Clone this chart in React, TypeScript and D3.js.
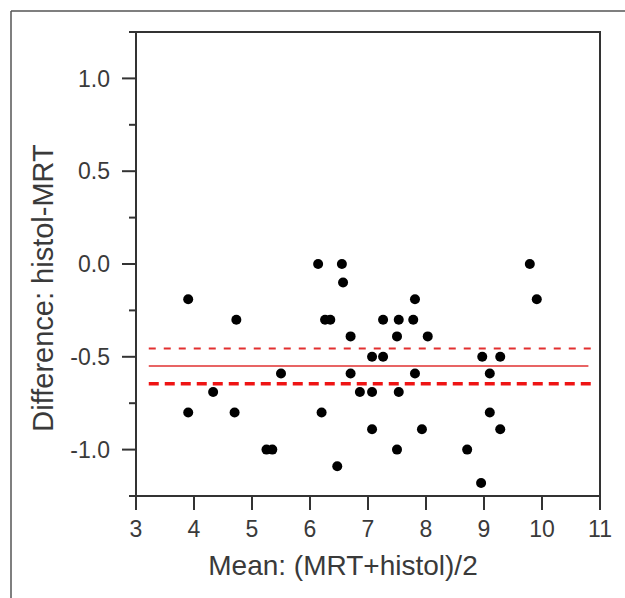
import React from "react";
import * as d3 from "d3";

const meanValues: number[] = [
  3.9, 3.9, 4.33, 4.73, 4.7, 5.25, 5.35, 5.5, 6.14, 6.2, 6.26, 6.35, 6.55, 6.57, 6.47, 6.7, 6.7, 6.86,
  7.07, 7.07, 7.07, 7.26, 7.26, 7.53, 7.5, 7.53, 7.5, 7.78, 7.81, 7.81, 8.03, 7.93, 8.71, 8.95, 8.97,
  9.1, 9.1, 9.28, 9.28, 9.79, 9.91,
];
const diffValues: number[] = [
  -0.19, -0.8, -0.69, -0.3, -0.8, -1.0, -1.0, -0.59, 0.0, -0.8, -0.3, -0.3, 0.0, -0.1, -1.09, -0.39, -0.59, -0.69,
  -0.5, -0.69, -0.89, -0.3, -0.5, -0.3, -0.39, -0.69, -1.0, -0.3, -0.19, -0.59, -0.39, -0.89, -1.0, -1.18, -0.5,
  -0.59, -0.8, -0.5, -0.89, 0.0, -0.19,
];
const xTicks: number[] = [3, 4, 5, 6, 7, 8, 9, 10, 11];
const yTicks: number[] = [1.0, 0.5, 0.0, -0.5, -1.0];
const yMinorTicks: number[] = [1.25, 0.75, 0.25, -0.25, -0.75, -1.25];
const meanDiff = -0.55;
const upperCI = -0.455;
const lowerCI = -0.645;
const lineStart = 3.22;
const lineEnd = 10.8;

const W = 625;
const H = 598;
const left = 136, right = 600, top = 32, bottom = 496;

export default function App() {
  const x = d3.scaleLinear().domain([3, 11]).range([left, right]);
  const y = d3.scaleLinear().domain([-1.25, 1.25]).range([bottom, top]);
  const axisColor = "#333";
  const textColor = "#3a3a3a";
  const font = "'Liberation Sans', Arial, sans-serif";
  const fmt = (t: number) => d3.format(".1f")(t).replace("\u2212", "-");
  const pts = meanValues.map((m, i) => [m, diffValues[i]] as [number, number]);
  return (
    <svg width={W} height={H} style={{ position: "absolute", left: 0, top: 0, background: "#fff" }}>
      {/* outer frame */}
      <line x1={11} y1={11} x2={W} y2={11} stroke="#555" strokeWidth={1.5} />
      <line x1={11} y1={11} x2={11} y2={H} stroke="#555" strokeWidth={1.5} />
      {/* plot box */}
      <rect x={left} y={top} width={right - left} height={bottom - top} fill="none" stroke={axisColor} strokeWidth={2} />
      {/* y ticks */}
      {yTicks.map((t) => (
        <g key={"y" + t}>
          <line x1={left - 14} x2={left} y1={y(t)} y2={y(t)} stroke={axisColor} strokeWidth={2} />
          <text x={110} y={y(t)} dy="0.36em" textAnchor="end" fontSize={23} fontFamily={font} fill={textColor}>
            {fmt(t)}
          </text>
        </g>
      ))}
      {yMinorTicks.map((t) => (
        <line key={"ym" + t} x1={left - 7} x2={left} y1={y(t)} y2={y(t)} stroke={axisColor} strokeWidth={2} />
      ))}
      {/* x ticks */}
      {xTicks.map((t) => (
        <g key={"x" + t}>
          <line x1={x(t)} x2={x(t)} y1={bottom} y2={bottom + 14} stroke={axisColor} strokeWidth={2} />
          <text x={x(t)} y={537} textAnchor="middle" fontSize={23} fontFamily={font} fill={textColor}>
            {t}
          </text>
        </g>
      ))}
      {/* axis titles */}
      <text x={343} y={575} textAnchor="middle" fontSize={28} fontFamily={font} fill={textColor}>
        Mean: (MRT+histol)/2
      </text>
      <text
        transform={`translate(53,288) rotate(-90)`}
        textAnchor="middle"
        fontSize={29}
        fontFamily={font}
        fill={textColor}
      >
        Difference: histol-MRT
      </text>
      {/* reference lines */}
      <line x1={x(lineStart)} x2={x(lineEnd)} y1={y(meanDiff)} y2={y(meanDiff)} stroke="#e86464" strokeWidth={2} />
      <line x1={x(lineStart)} x2={x(lineEnd) + 3} y1={y(upperCI)} y2={y(upperCI)} stroke="#e23030" strokeWidth={2} strokeDasharray="7,8" />
      <line x1={x(lineStart)} x2={x(lineEnd) + 3} y1={y(lowerCI)} y2={y(lowerCI)} stroke="#ee1414" strokeWidth={3.5} strokeDasharray="10,6" />
      {/* points */}
      {pts.map((p, i) => (
        <circle key={i} cx={x(p[0])} cy={y(p[1])} r={5} fill="#000" />
      ))}
    </svg>
  );
}
